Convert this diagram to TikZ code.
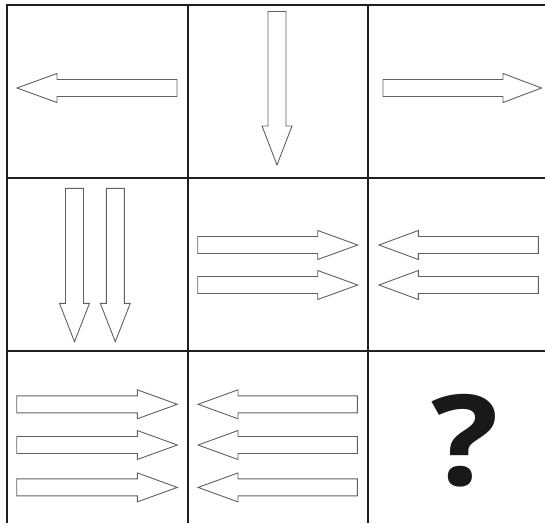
\documentclass[tikz,border=0pt]{standalone}
\usepackage{fontspec}
\newfontfamily\qfont{Open Sans}
\newcommand{\arrRight}[4]{% start, headbase, tip, y
  \draw[arrowshape] (#1,#4-8.5) -- (#2,#4-8.5) -- (#2,#4-14.5) -- (#3,#4) -- (#2,#4+14.5) -- (#2,#4+8.5) -- (#1,#4+8.5) -- cycle;}
\newcommand{\arrDown}[4]{% x, top, headbase, tip
  \draw[arrowshape] (#1-9,#2) -- (#1+9,#2) -- (#1+9,#3) -- (#1+15,#3) -- (#1,#4) -- (#1-15,#3) -- (#1-9,#3) -- cycle;}
\begin{document}
\begin{tikzpicture}[x=1pt,y=-1pt,
  arrowshape/.style={draw=black!62,fill=white,line width=0.9pt,line join=miter},
  gridline/.style={draw=black!88,line width=2pt},
  qmark/.style={font=\qfont\bfseries\fontsize{126}{126}\selectfont,text=black!90,inner sep=0pt,xscale=1.12}]
\useasboundingbox (0,0) rectangle (545,523);
\fill[white] (0,0) rectangle (545,523);
% grid
\draw[gridline] (7,523) -- (7,5) -- (545,5);
\draw[gridline] (187.5,5) -- (187.5,523);
\draw[gridline] (367.5,5) -- (367.5,523);
\draw[gridline] (7,178) -- (545,178);
\draw[gridline] (7,351) -- (545,351);
% row 1
\arrRight{177}{57}{17}{88}
\arrDown{277}{11.5}{126}{165}
\arrRight{383}{503}{541.5}{88}
% row 2
\arrDown{74.5}{188.3}{303.3}{341.7}
\arrDown{115.3}{188.3}{303.3}{341.7}
\arrRight{197.7}{317.7}{357.7}{245}
\arrRight{197.7}{317.7}{357.7}{285}
\arrRight{538.3}{418.3}{379}{245}
\arrRight{538.3}{418.3}{379}{285}
% row 3
\arrRight{16.7}{137.3}{177.3}{404.3}
\arrRight{16.7}{137.3}{177.3}{445}
\arrRight{16.7}{137.3}{177.3}{487.4}
\arrRight{357.3}{238}{198.1}{404.3}
\arrRight{357.3}{238}{198.1}{445}
\arrRight{357.3}{238}{198.1}{487.4}
\node[qmark] (q) at (465,441) {?};
\end{tikzpicture}
\end{document}
